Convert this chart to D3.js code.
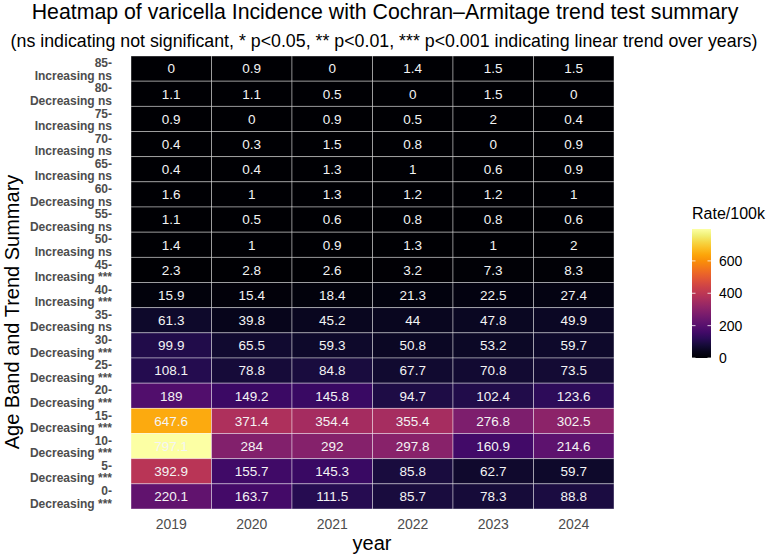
<!DOCTYPE html>
<html>
<head>
<meta charset="utf-8">
<script src="https://cdn.jsdelivr.net/npm/d3@7"></script>
<style>
  body { margin: 0; background: #fff; }
  text { font-family: "Liberation Sans", Arial, sans-serif; }
</style>
</head>
<body>
<svg id="chart" width="767" height="556"></svg>
<script>
// years on x, age bands top to bottom
const years = ["2019", "2020", "2021", "2022", "2023", "2024"];
const ageBands = ["85-", "80-", "75-", "70-", "65-", "60-", "55-", "50-", "45-",
                  "40-", "35-", "30-", "25-", "20-", "15-", "10-", "5-", "0-"];
const trends = ["Increasing ns", "Decreasing ns", "Increasing ns", "Increasing ns",
                "Increasing ns", "Decreasing ns", "Decreasing ns", "Increasing ns",
                "Increasing ***", "Increasing ***", "Decreasing ns", "Decreasing ***",
                "Decreasing ***", "Decreasing ***", "Decreasing ***", "Decreasing ***",
                "Decreasing ***", "Decreasing ***"];
const rates = [
    [0, 0.9, 0, 1.4, 1.5, 1.5],
    [1.1, 1.1, 0.5, 0, 1.5, 0],
    [0.9, 0, 0.9, 0.5, 2, 0.4],
    [0.4, 0.3, 1.5, 0.8, 0, 0.9],
    [0.4, 0.4, 1.3, 1, 0.6, 0.9],
    [1.6, 1, 1.3, 1.2, 1.2, 1],
    [1.1, 0.5, 0.6, 0.8, 0.8, 0.6],
    [1.4, 1, 0.9, 1.3, 1, 2],
    [2.3, 2.8, 2.6, 3.2, 7.3, 8.3],
    [15.9, 15.4, 18.4, 21.3, 22.5, 27.4],
    [61.3, 39.8, 45.2, 44, 47.8, 49.9],
    [99.9, 65.5, 59.3, 50.8, 53.2, 59.7],
    [108.1, 78.8, 84.8, 67.7, 70.8, 73.5],
    [189, 149.2, 145.8, 94.7, 102.4, 123.6],
    [647.6, 371.4, 354.4, 355.4, 276.8, 302.5],
    [797.1, 284, 292, 297.8, 160.9, 214.6],
    [392.9, 155.7, 145.3, 85.8, 62.7, 59.7],
    [220.1, 163.7, 111.5, 85.7, 78.3, 88.8]
];
const legendTicks = [0, 200, 400, 600];

const svg = d3.select("#chart");
const panel = {left: 131, right: 614, top: 56, bottom: 509};

const cells = [];
ageBands.forEach((a, i) => years.forEach((y, j) => cells.push({age: a, year: y, value: rates[i][j]})));

const maxRate = d3.max(cells, d => d.value);
const color = d3.scaleSequential(d3.interpolateInferno).domain([0, maxRate]);

const x = d3.scaleBand().domain(years).range([panel.left, panel.right]);
const y = d3.scaleBand().domain(ageBands).range([panel.top, panel.bottom]);

// tiles
svg.append("g").selectAll("rect")
    .data(cells)
    .join("rect")
    .attr("x", d => x(d.year))
    .attr("y", d => y(d.age))
    .attr("width", x.bandwidth())
    .attr("height", y.bandwidth())
    .attr("fill", d => color(d.value))
    .attr("stroke", "#ffffff")
    .attr("stroke-opacity", 0.5)
    .attr("stroke-width", 0.8);

svg.append("g").selectAll("text")
    .data(cells)
    .join("text")
    .attr("x", d => x(d.year) + x.bandwidth() / 2)
    .attr("y", d => y(d.age) + y.bandwidth() / 2)
    .attr("dy", "0.36em")
    .attr("text-anchor", "middle")
    .attr("font-size", 13.5)
    .attr("fill", "#f4f4f4")
    .text(d => d.value);

// x axis
const xAxis = svg.append("g")
    .attr("transform", "translate(0," + panel.bottom + ")")
    .call(d3.axisBottom(x).tickSize(0).tickPadding(10));
xAxis.select("path.domain").remove();
xAxis.selectAll("text")
    .attr("font-size", 14)
    .attr("font-family", "Liberation Sans, Arial, sans-serif")
    .attr("fill", "#4d4d4d");

// y axis with two-line labels
const yAxis = svg.append("g")
    .attr("transform", "translate(" + panel.left + ",0)")
    .call(d3.axisLeft(y).tickSize(0).tickPadding(19));
yAxis.select("path.domain").remove();
yAxis.selectAll("text")
    .attr("font-size", 12)
    .attr("font-weight", "bold")
    .attr("font-family", "Liberation Sans, Arial, sans-serif")
    .attr("fill", "#4d4d4d")
    .attr("dy", null)
    .each(function(d, i) {
        const t = d3.select(this);
        const xx = t.attr("x");
        t.text(null);
        t.append("tspan").attr("x", xx).attr("dy", -1.3).text(d);
        t.append("tspan").attr("x", xx).attr("dy", 12.4).text(trends[i]);
    });

// titles
svg.append("text")
    .attr("x", 385).attr("y", 19)
    .attr("text-anchor", "middle")
    .attr("font-size", 21.3)
    .attr("fill", "#000")
    .text("Heatmap of varicella Incidence with Cochran\u2013Armitage trend test summary");
svg.append("text")
    .attr("x", 384).attr("y", 47)
    .attr("text-anchor", "middle")
    .attr("font-size", 17.8)
    .attr("fill", "#000")
    .text("(ns indicating not significant, * p<0.05, ** p<0.01, *** p<0.001 indicating linear trend over years)");

svg.append("text")
    .attr("x", 372).attr("y", 550)
    .attr("text-anchor", "middle")
    .attr("font-size", 20)
    .text("year");

svg.append("text")
    .attr("transform", "translate(19,312) rotate(-90)")
    .attr("text-anchor", "middle")
    .attr("font-size", 20)
    .text("Age Band and Trend Summary");

// legend
const legX = 692, legW = 19, legTop = 229, legBottom = 358;
const legScale = d3.scaleLinear().domain([0, maxRate]).range([legBottom, legTop]);
const defs = svg.append("defs");
const grad = defs.append("linearGradient")
    .attr("id", "legGrad")
    .attr("x1", "0%").attr("y1", "100%").attr("x2", "0%").attr("y2", "0%");
d3.range(0, 1.0001, 0.05).forEach(t => {
    grad.append("stop").attr("offset", (t * 100) + "%").attr("stop-color", d3.interpolateInferno(t));
});
svg.append("rect")
    .attr("x", legX).attr("y", legTop)
    .attr("width", legW).attr("height", legBottom - legTop)
    .attr("fill", "url(#legGrad)");
const legG = svg.append("g");
legendTicks.forEach(v => {
    legG.append("line")
        .attr("x1", legX).attr("x2", legX + 3.5)
        .attr("y1", legScale(v)).attr("y2", legScale(v))
        .attr("stroke", "#fff").attr("stroke-width", 0.8);
    legG.append("line")
        .attr("x1", legX + legW - 3.5).attr("x2", legX + legW)
        .attr("y1", legScale(v)).attr("y2", legScale(v))
        .attr("stroke", "#fff").attr("stroke-width", 0.8);
    legG.append("text")
        .attr("x", legX + legW + 8)
        .attr("y", legScale(v))
        .attr("dy", "0.36em")
        .attr("font-size", 14)
        .attr("fill", "#000")
        .text(v);
});
svg.append("text")
    .attr("x", 692).attr("y", 219)
    .attr("font-size", 16)
    .text("Rate/100k");
</script>
</body>
</html>
